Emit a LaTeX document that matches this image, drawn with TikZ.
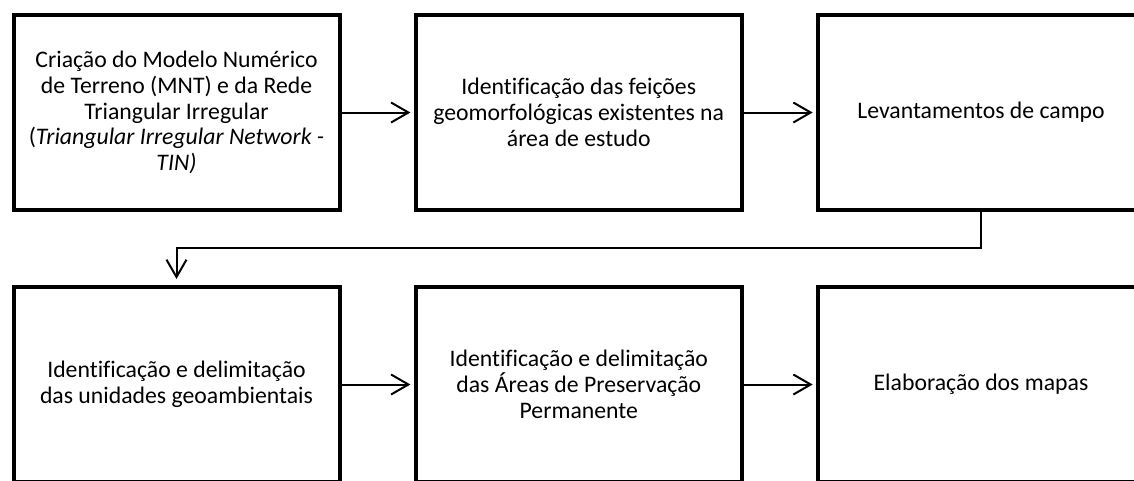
\documentclass[tikz,border=0pt]{standalone}
\usepackage{fontspec}
\setmainfont{Carlito}[Ligatures=NoCommon]
\usetikzlibrary{arrows.meta}

\begin{document}
\begin{tikzpicture}[x=0.75pt, y=-0.75pt,
	>={Straight Barb[length=13pt,width=15pt]},
	etapa/.style={draw, line width=3pt, minimum width=244.5pt, minimum height=146.25pt,
		outer sep=0pt, align=center, font=\fontsize{17.8}{19.3}\selectfont},
	seta/.style={->, line width=1.5pt, shorten >=4pt}]
	\clip (0,0) rectangle (1134,480);

	%first row
	\node[etapa] (mnt) at (176.5,112.5) {Criação do Modelo Numérico\\de Terreno (MNT) e da Rede\\Triangular Irregular\\(\textit{Triangular Irregular Network -}\\\textit{TIN)}};
	\node[etapa] (feicoes) at (578.75,112.5) {Identificação das feições\\geomorfológicas existentes na\\área de estudo};
	\node[etapa] (campo) at (981,112.5) {Levantamentos de campo};

	%second row
	\node[etapa] (unidades) at (176.5,384.5) {Identificação e delimitação\\das unidades geoambientais};
	\node[etapa] (app) at (578.75,384.5) {Identificação e delimitação\\das Áreas de Preservação\\Permanente};
	\node[etapa] (mapas) at (981,384.5) {Elaboração dos mapas};

	\draw[seta] (mnt) -- (feicoes);
	\draw[seta] (feicoes) -- (campo);
	\draw[seta, shorten >=6pt] (campo.south) -- ++(0,38) -| (unidades.north);
	\draw[seta] (unidades) -- (app);
	\draw[seta] (app) -- (mapas);
\end{tikzpicture}
\end{document}
